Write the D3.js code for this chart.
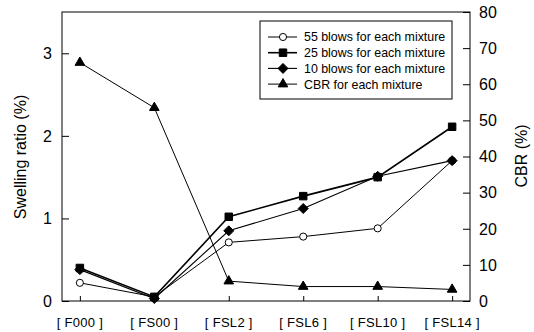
<!DOCTYPE html>
<html><head><meta charset="utf-8">
<script src="https://cdn.jsdelivr.net/npm/d3@7"></script>
<style>body{margin:0;background:#fff}svg{display:block}text{font-family:"Liberation Sans",Arial,sans-serif;fill:#000}</style>
</head><body><svg id="c" width="534" height="332"></svg>
<script>
const categories = ["[ F000 ]","[ FS00 ]","[ FSL2 ]","[ FSL6 ]","[ FSL10 ]","[ FSL14 ]"];
const blows55 = [0.22,0.05,0.71,0.78,0.88,1.70];
const blows25 = [0.40,0.05,1.02,1.27,1.50,2.11];
const blows10 = [0.38,0.03,0.85,1.12,1.51,1.70];
const cbr = [66,53.5,5.5,4,4,3.2];
const leftTicks = [0,1,2,3];
const rightTicks = [0,10,20,30,40,50,60,70,80];
const legendLabels = ["55 blows for each mixture","25 blows for each mixture","10 blows for each mixture","CBR for each mixture"];

const svg = d3.select("#c");
const L=62,R=470,T=12,B=301;
const x = d3.scalePoint().domain(categories).range([L,R]).padding(0.24);
const yL = d3.scaleLinear().domain([0,3.5]).range([B,T]);
const yR = d3.scaleLinear().domain([0,80]).range([B,T]);

// frame
svg.append("rect").attr("x",L).attr("y",T).attr("width",R-L).attr("height",B-T)
  .attr("fill","none").attr("stroke","#000").attr("stroke-width",1);

// left axis (inward ticks)
const gl = svg.append("g").attr("transform",`translate(${L},0)`);
gl.call(d3.axisRight(yL).tickValues(d3.range(0,36).map(d=>d/10)).tickSize(4).tickFormat(""));
gl.call(d3.axisRight(yL).tickValues(leftTicks).tickSize(7).tickFormat(""));
gl.selectAll(".domain").remove();
svg.append("g").selectAll("text").data(leftTicks).join("text")
  .attr("x",52).attr("y",d=>yL(d)).attr("dy","0.36em").attr("text-anchor","end")
  .attr("font-size",16).text(d=>d);

// right axis
const gr = svg.append("g").attr("transform",`translate(${R},0)`);
gr.call(d3.axisLeft(yR).tickValues(d3.range(0,81,2)).tickSize(4).tickFormat(""));
gr.call(d3.axisLeft(yR).tickValues(rightTicks).tickSize(7).tickFormat(""));
gr.selectAll(".domain").remove();
svg.append("g").selectAll("text").data(rightTicks).join("text")
  .attr("x",479).attr("y",d=>yR(d)).attr("dy","0.36em").attr("text-anchor","start")
  .attr("font-size",16).text(d=>d);

// bottom axis
const gb = svg.append("g").attr("transform",`translate(0,${B})`);
gb.call(d3.axisTop(x).tickSize(5).tickFormat(""));
gb.selectAll(".domain").remove();
svg.append("g").selectAll("text").data(categories).join("text")
  .attr("x",d=>x(d)).attr("y",327).attr("text-anchor","middle")
  .attr("font-size",13).attr("letter-spacing",0.3).text(d=>d);

// axis titles
svg.append("text").attr("transform","translate(26,157) rotate(-90)").attr("text-anchor","middle")
  .attr("font-size",16).text("Swelling ratio (%)");
svg.append("text").attr("transform","translate(527,156) rotate(-90)").attr("text-anchor","middle")
  .attr("font-size",16).text("CBR (%)");

const symCircle = () => d3.symbol().type(d3.symbolCircle).size(40)();
const symSquare = () => d3.symbol().type(d3.symbolSquare).size(56)();
const symDiamond = () => "M0,-5L5,0L0,5L-5,0Z";
const symTriangle = () => d3.symbol().type(d3.symbolTriangle).size(40)();

const series = [
  {vals:blows55, y:yL, sym:symCircle, fill:"#fff", w:1},
  {vals:blows25, y:yL, sym:symSquare, fill:"#000", w:1.6},
  {vals:blows10, y:yL, sym:symDiamond, fill:"#000", w:1.1},
  {vals:cbr, y:yR, sym:symTriangle, fill:"#000", w:1}
];
series.forEach(s=>{
  const line = d3.line().x((d,i)=>x(categories[i])).y(d=>s.y(d));
  svg.append("path").attr("d",line(s.vals)).attr("fill","none").attr("stroke","#000").attr("stroke-width",s.w);
});
series.forEach(s=>{
  svg.append("g").selectAll("path").data(s.vals).join("path")
    .attr("transform",(d,i)=>`translate(${x(categories[i])},${s.y(d)})`)
    .attr("d",s.sym()).attr("fill",s.fill).attr("stroke","#000").attr("stroke-width",1);
});

// legend
const lg = svg.append("g");
lg.append("rect").attr("x",260).attr("y",21).attr("width",192).attr("height",78)
  .attr("fill","#fff").attr("stroke","#000").attr("stroke-width",1);
legendLabels.forEach((t,i)=>{
  const yy = 37 + i*15.7;
  lg.append("line").attr("x1",268).attr("x2",297).attr("y1",yy).attr("y2",yy)
    .attr("stroke","#000").attr("stroke-width",series[i].w);
  lg.append("path").attr("transform",`translate(283,${yy})`).attr("d",series[i].sym())
    .attr("fill",series[i].fill).attr("stroke","#000");
  lg.append("text").attr("x",304).attr("y",yy).attr("dy","0.36em").attr("font-size",12.4).text(t);
});
</script></body></html>
